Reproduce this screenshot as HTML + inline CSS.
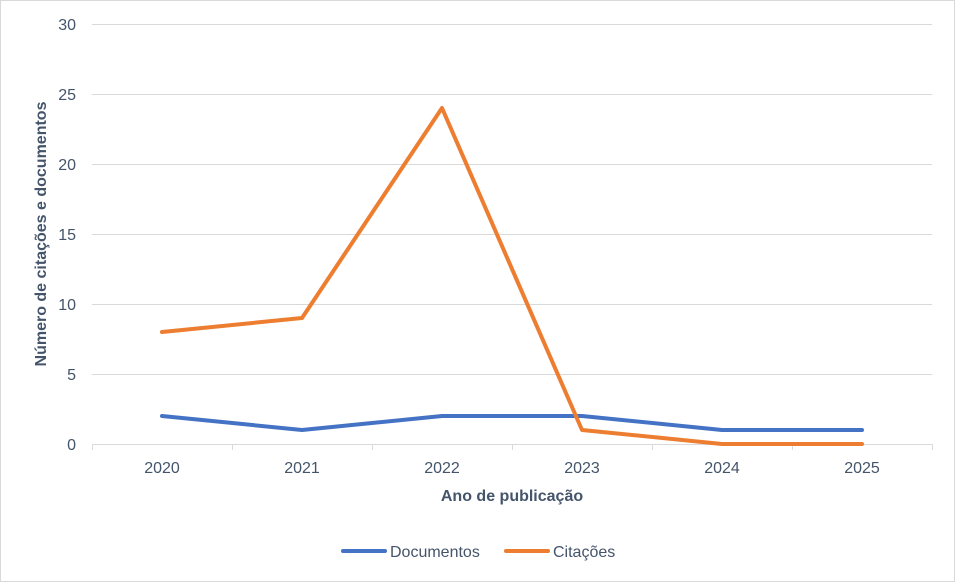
<!DOCTYPE html>
<html><head><meta charset="utf-8"><style>
html,body{margin:0;padding:0;background:#fff;}
svg{display:block;}
text{font-family:"Liberation Sans",sans-serif;fill:#44546a;}
</style></head><body>
<svg width="955" height="582" viewBox="0 0 955 582" xmlns="http://www.w3.org/2000/svg">
<rect x="0.5" y="0.5" width="954" height="581" fill="#fff" stroke="#d9d9d9"/>
<g stroke="#d9d9d9" stroke-width="1">
<line x1="92" y1="24.5" x2="932" y2="24.5"/>
<line x1="92" y1="94.5" x2="932" y2="94.5"/>
<line x1="92" y1="164.5" x2="932" y2="164.5"/>
<line x1="92" y1="234.5" x2="932" y2="234.5"/>
<line x1="92" y1="304.5" x2="932" y2="304.5"/>
<line x1="92" y1="374.5" x2="932" y2="374.5"/>
<line x1="92" y1="444.5" x2="932" y2="444.5"/>
<line x1="92.5" y1="444" x2="92.5" y2="450"/>
<line x1="232.5" y1="444" x2="232.5" y2="450"/>
<line x1="372.5" y1="444" x2="372.5" y2="450"/>
<line x1="512.5" y1="444" x2="512.5" y2="450"/>
<line x1="652.5" y1="444" x2="652.5" y2="450"/>
<line x1="792.5" y1="444" x2="792.5" y2="450"/>
<line x1="932.5" y1="444" x2="932.5" y2="450"/>
</g>
<g font-size="16" text-anchor="end">
<text x="76" y="30">30</text>
<text x="76" y="100">25</text>
<text x="76" y="170">20</text>
<text x="76" y="240">15</text>
<text x="76" y="310">10</text>
<text x="76" y="380">5</text>
<text x="76" y="450">0</text>
</g>
<g font-size="16" text-anchor="middle">
<text x="162" y="473">2020</text>
<text x="302" y="473">2021</text>
<text x="442" y="473">2022</text>
<text x="582" y="473">2023</text>
<text x="722" y="473">2024</text>
<text x="862" y="473">2025</text>
</g>
<text x="512" y="501" font-size="16" font-weight="bold" text-anchor="middle">Ano de publicação</text>
<text transform="translate(46,234) rotate(-90)" font-size="16" font-weight="bold" text-anchor="middle">Número de citações e documentos</text>
<polyline points="162,416 302,430 442,416 582,416 722,430 862,430" fill="none" stroke="#4472c4" stroke-width="4" stroke-linecap="round" stroke-linejoin="round"/>
<polyline points="162,332 302,318 442,108 582,430 722,444 862,444" fill="none" stroke="#ed7d31" stroke-width="4" stroke-linecap="round" stroke-linejoin="round"/>
<line x1="343" y1="551" x2="385" y2="551" stroke="#4472c4" stroke-width="4" stroke-linecap="round"/>
<text x="390" y="557" font-size="16">Documentos</text>
<line x1="506" y1="551" x2="548" y2="551" stroke="#ed7d31" stroke-width="4" stroke-linecap="round"/>
<text x="553" y="557" font-size="16">Citações</text>
</svg>
</body></html>
